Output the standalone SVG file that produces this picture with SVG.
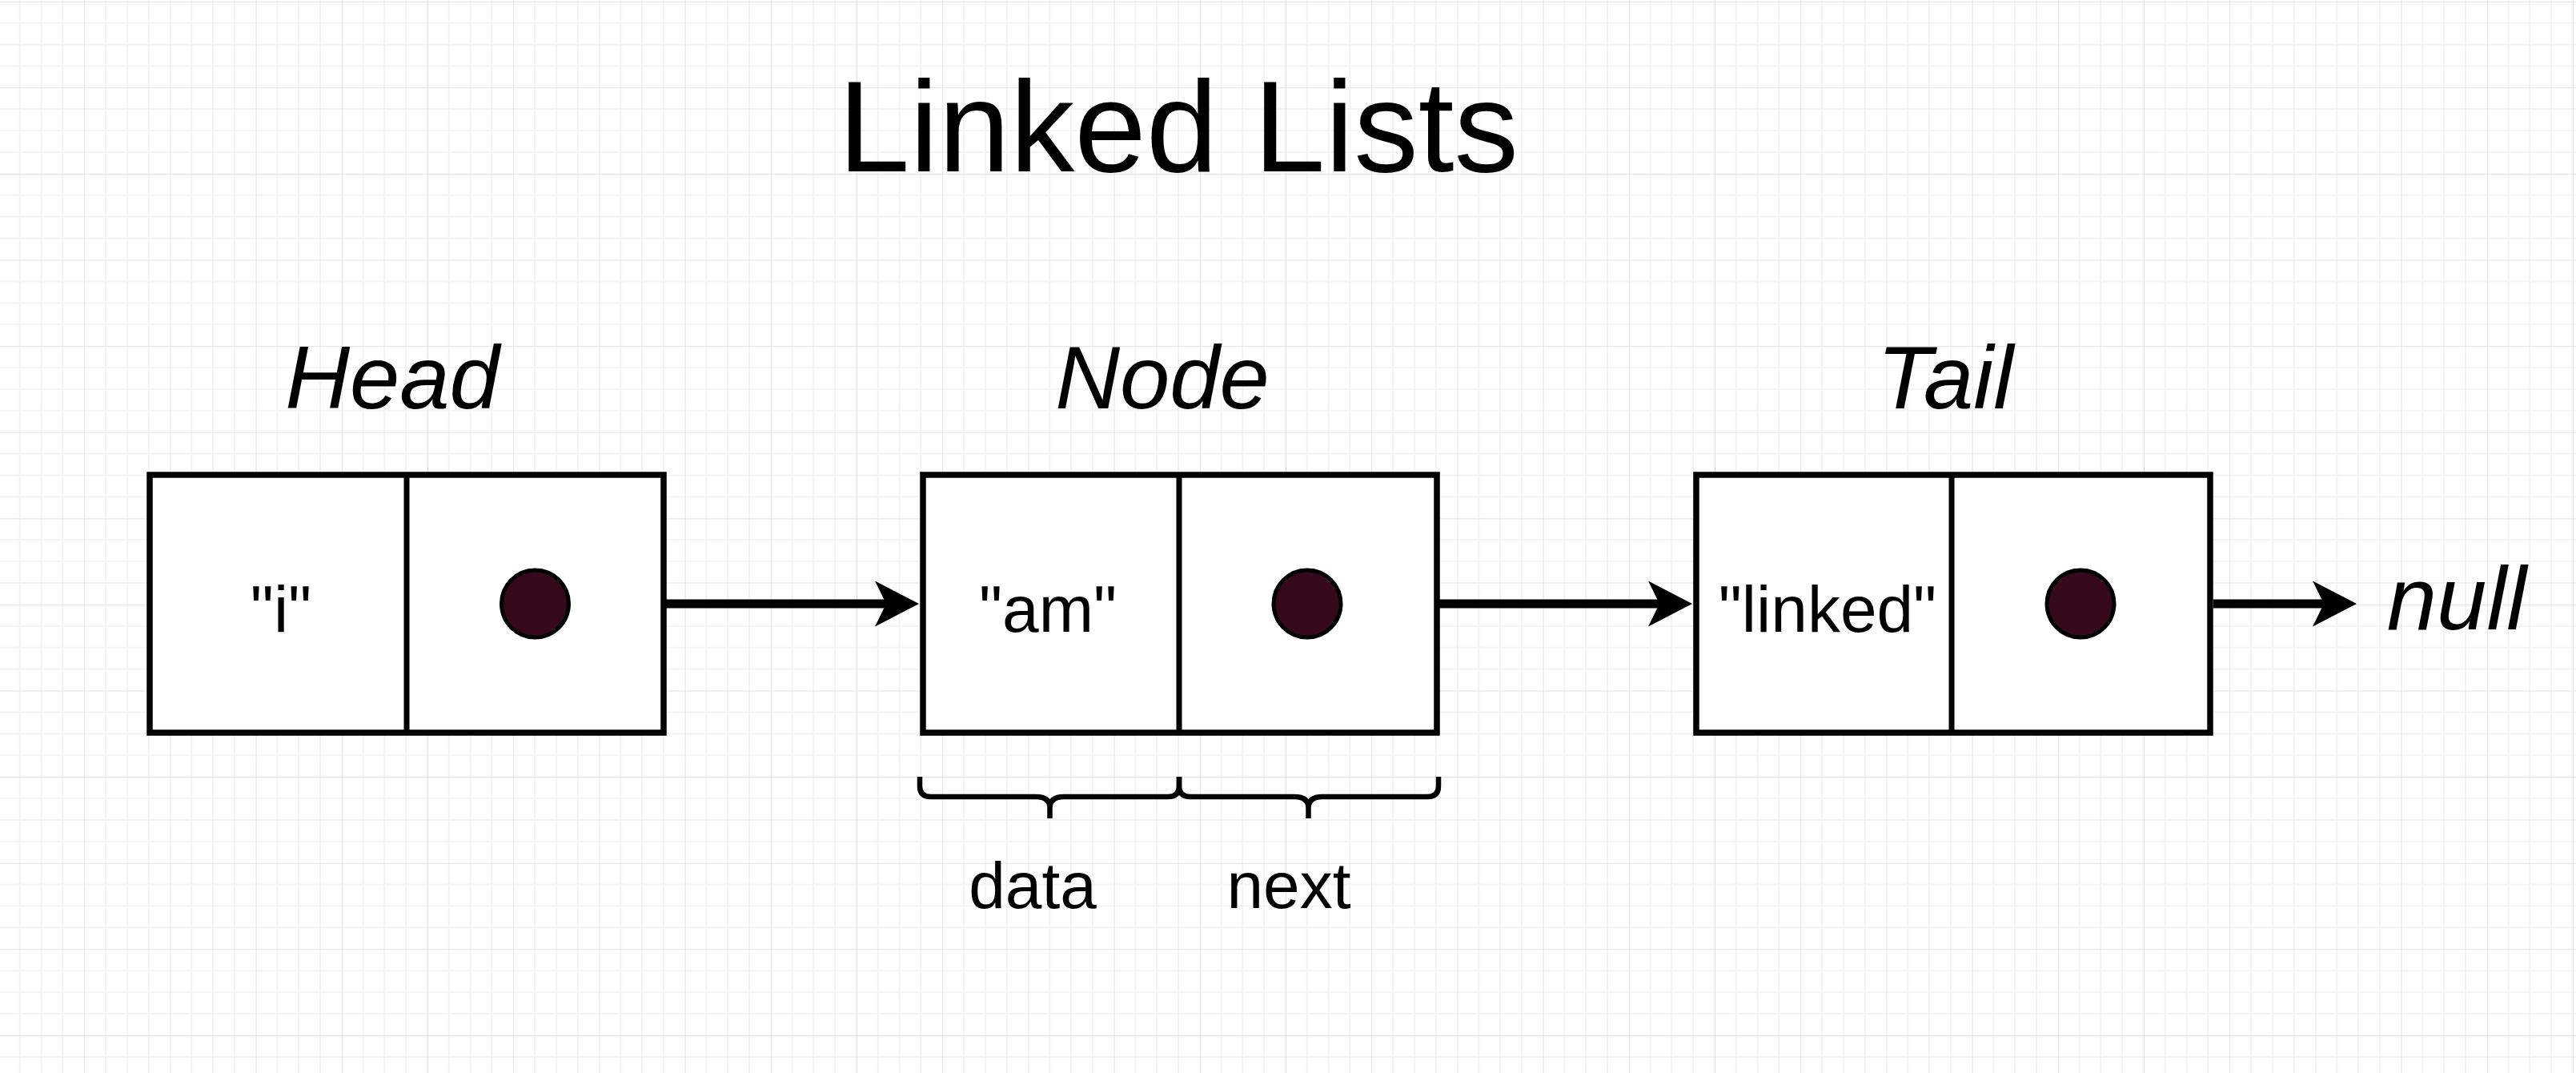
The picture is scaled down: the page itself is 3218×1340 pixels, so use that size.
<svg xmlns="http://www.w3.org/2000/svg" width="3218" height="1340" viewBox="0 0 3218 1340">
  <defs>
    <pattern id="grid" patternUnits="userSpaceOnUse" x="-2" y="1.7" width="107.2" height="107.6">
      <g stroke="#f0f0f0" stroke-width="1.5">
        <line x1="26.8" y1="0" x2="26.8" y2="107.6"/>
        <line x1="53.6" y1="0" x2="53.6" y2="107.6"/>
        <line x1="80.4" y1="0" x2="80.4" y2="107.6"/>
        <line x1="0" y1="26.9" x2="107.2" y2="26.9"/>
        <line x1="0" y1="53.8" x2="107.2" y2="53.8"/>
        <line x1="0" y1="80.7" x2="107.2" y2="80.7"/>
      </g>
      <g stroke="#e2e2e2" stroke-width="2">
        <line x1="0" y1="0" x2="0" y2="107.6"/>
        <line x1="0" y1="0" x2="107.2" y2="0"/>
      </g>
    </pattern>
    <marker id="arrow" markerUnits="userSpaceOnUse" viewBox="0 0 56 57" markerWidth="56" markerHeight="57" refX="14" refY="28.5" orient="auto">
      <path d="M0,0 L55,28.5 L0,57 L14,28.5 Z" fill="#000"/>
    </marker>
  </defs>
  <style>
    .box { fill: #ffffff; stroke: #000; stroke-width: 7.5; }
    .div { stroke: #000; stroke-width: 7; }
    .dot { fill: #35091b; stroke: #000; stroke-width: 5; }
    .val { font-family: "Liberation Sans", Arial, sans-serif; font-size: 82px; fill: #000; text-anchor: middle; }
    .lbl { font-family: "Liberation Sans", Arial, sans-serif; font-size: 112px; font-style: italic; fill: #000; text-anchor: middle; }
    .title { font-family: "Liberation Sans", Arial, sans-serif; font-size: 161px; fill: #000; text-anchor: middle; }
    .conn { stroke: #000; stroke-width: 11; fill: none; }
    .brace { stroke: #000; stroke-width: 6.5; fill: none; }
  </style>

  <rect x="0" y="0" width="3218" height="1340" fill="#ffffff"/>
  <rect x="0" y="0" width="3218" height="1340" fill="url(#grid)"/>

  <g id="title">
    <text class="title" x="1472" y="214">Linked Lists</text>
  </g>

  <g id="head">
    <text class="lbl" x="490" y="510">Head</text>
    <rect class="box" x="187" y="593" width="642" height="322"/>
    <line class="div" x1="508" y1="593" x2="508" y2="915"/>
    <text class="val" x="351" y="789">"i"</text>
    <circle class="dot" cx="668.5" cy="754" r="42"/>
  </g>

  <g id="node">
    <text class="lbl" x="1452" y="510">Node</text>
    <rect class="box" x="1153" y="593" width="642" height="322"/>
    <line class="div" x1="1473" y1="593" x2="1473" y2="915"/>
    <text class="val" x="1309" y="789">"am"</text>
    <circle class="dot" cx="1633" cy="754" r="42"/>
  </g>

  <g id="tail">
    <text class="lbl" x="2430" y="510">Tail</text>
    <rect class="box" x="2119" y="593" width="642" height="322"/>
    <line class="div" x1="2438" y1="593" x2="2438" y2="915"/>
    <text class="val" x="2283" y="789">"linked"</text>
    <circle class="dot" cx="2599" cy="754" r="42"/>
  </g>

  <g id="null">
    <text class="lbl" x="3069" y="786">null</text>
  </g>

  <g id="braces">
    <path class="brace" d="M1149,970 V982 Q1149,995 1163,995 H1294 Q1311.5,995 1311.5,1009 V1022 M1311.5,1009 Q1311.5,995 1329,995 H1459 Q1473,995 1473,982 V970"/>
    <path class="brace" d="M1473,970 V982 Q1473,995 1487,995 H1617 Q1634.5,995 1634.5,1009 V1022 M1634.5,1009 Q1634.5,995 1652,995 H1783 Q1797,995 1797,982 V970"/>
    <text class="val" x="1290" y="1134">data</text>
    <text class="val" x="1610" y="1134">next</text>
  </g>

  <g id="connectors">
    <line class="conn" x1="832" y1="754" x2="1107" y2="754" marker-end="url(#arrow)"/>
    <line class="conn" x1="1798" y1="754" x2="2073" y2="754" marker-end="url(#arrow)"/>
    <line class="conn" x1="2765" y1="754" x2="2903" y2="754" marker-end="url(#arrow)"/>
  </g>
</svg>
